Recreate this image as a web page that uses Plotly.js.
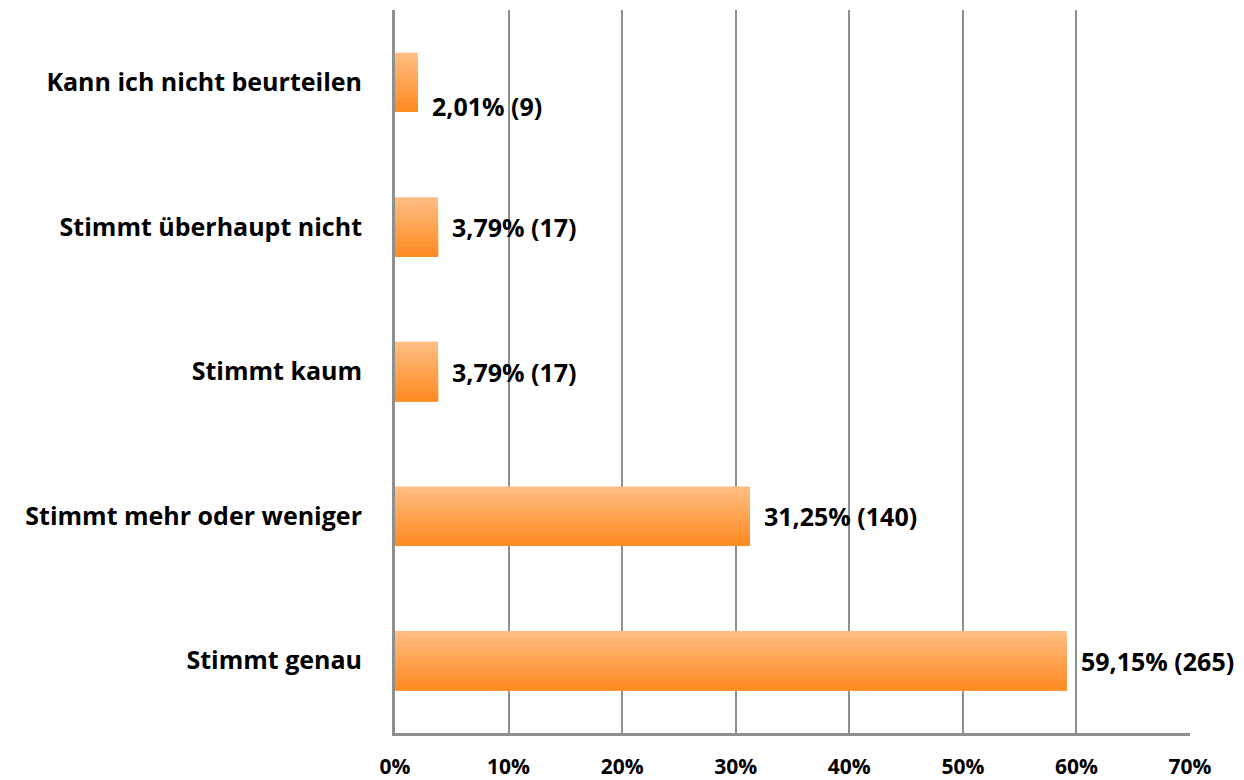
<!DOCTYPE html>
<html>
<head>
<meta charset="utf-8">
<script src="https://cdn.plot.ly/plotly-3.0.1.min.js"></script>
<style>
  body { margin: 0; background: #fff; }
  #chart { width: 1244px; height: 780px; }
</style>
</head>
<body>
<div id="chart"></div>
<script>
// answers, bottom to top as plotly draws them
var categories = ['Stimmt genau', 'Stimmt mehr oder weniger', 'Stimmt kaum', 'Stimmt überhaupt nicht', 'Kann ich nicht beurteilen'];
var percents = [59.15, 31.25, 3.79, 3.79, 2.01];
var counts = [265, 140, 17, 17, 9];
var tickVals = [0, 10, 20, 30, 40, 50, 60, 70];

var fontName = '"Open Sans", sans-serif';
var labelFont = {family: fontName, size: 25, color: '#000', weight: 700};

// fake a vertical gradient: stacked bars anchored at the bottom edge, getting narrower and darker
var barWidth = 0.41;
var steps = 12;
var light = [255, 188, 128], dark = [253, 140, 36];
var data = [];
for (var i = 0; i < steps; i++) {
    var f = i / (steps - 1);
    var c = light.map(function(v, k) { return Math.round(v + (dark[k] - v) * f); });
    var w = barWidth * (1 - i / steps);
    data.push({
        type: 'bar',
        orientation: 'h',
        y: categories,
        x: percents,
        width: w,
        offset: -barWidth / 2,
        marker: {color: 'rgb(' + c.join(',') + ')', line: {width: 0}},
        hoverinfo: 'skip',
        showlegend: false
    });
}

var annotations = categories.map(function(cat, i) {
    return {
        x: percents[i],
        y: cat,
        text: percents[i].toFixed(2).replace('.', ',') + '% (' + counts[i] + ')',
        showarrow: false,
        xanchor: 'left',
        xshift: 12,
        yshift: i === 4 ? -24 : 0,
        font: labelFont
    };
});

var layout = {
    width: 1244,
    height: 780,
    margin: {l: 395, r: 54, t: 10, b: 47},
    paper_bgcolor: '#fff',
    plot_bgcolor: '#fff',
    barmode: 'overlay',
    font: labelFont,
    xaxis: {
        range: [0, 70],
        tickvals: tickVals,
        ticktext: tickVals.map(function(v) { return v + '%'; }),
        showgrid: true,
        gridcolor: '#8f8f8f',
        gridwidth: 2,
        zeroline: false,
        showline: true,
        linecolor: '#8f8f8f',
        linewidth: 3,
        ticks: '',
        ticklabelstandoff: 13,
        tickfont: {family: fontName, size: 21, color: '#000', weight: 700},
        fixedrange: true
    },
    yaxis: {
        type: 'category',
        range: [-0.5, 4.5],
        showgrid: false,
        zeroline: false,
        showline: true,
        linecolor: '#8f8f8f',
        linewidth: 3,
        ticks: '',
        ticklabelstandoff: 25,
        tickfont: {family: fontName, size: 25, color: '#000', weight: 700},
        fixedrange: true
    },
    annotations: annotations
};

Plotly.newPlot('chart', data, layout, {displayModeBar: false, staticPlot: true});
</script>
</body>
</html>
